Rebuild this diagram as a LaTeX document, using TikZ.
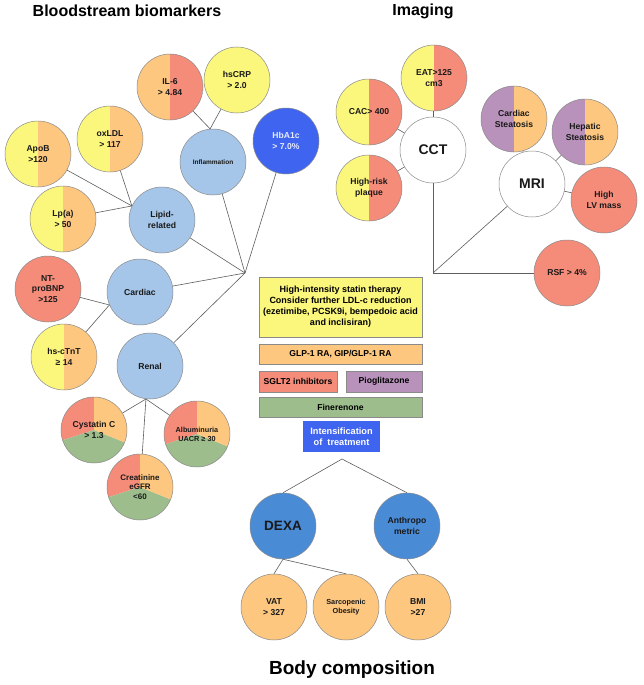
\documentclass[tikz,border=0pt]{standalone}
\usepackage{fontspec}
\setmainfont{Liberation Sans}
\usepackage{tikz}

\definecolor{cyel}{HTML}{FBF67C}
\definecolor{corg}{HTML}{FDC77F}
\definecolor{cred}{HTML}{F58C7A}
\definecolor{cgrn}{HTML}{9DBE8C}
\definecolor{cpur}{HTML}{B892BB}
\definecolor{clblue}{HTML}{A6C6E9}
\definecolor{cdblue}{HTML}{4A8BD6}
\definecolor{cblue}{HTML}{3F64F0}
\definecolor{cline}{HTML}{5E5E5E}
\definecolor{cedge}{HTML}{8A8A8A}

\newcommand{\fs}[1]{\bfseries\fontsize{#1}{1.22\dimexpr#1pt\relax}\selectfont}

\begin{document}
\begin{tikzpicture}[x=1pt,y=-1pt,
    marker/.style={circle,draw=cedge,line width=0.5pt,minimum size=66pt,inner sep=0pt,
      align=center,text=black!90,font=\fs{8.6}},
    halves/.style 2 args={path picture={
      \fill[#1] (path picture bounding box.south west) rectangle (path picture bounding box.north);
      \fill[#2] (path picture bounding box.south) rectangle (path picture bounding box.north east);}},
    thirds/.style={path picture={
      \fill[cred] (path picture bounding box.center) -- ++(90:40pt) arc (90:198:40pt) -- cycle;
      \fill[cgrn] (path picture bounding box.center) -- ++(198:40pt) arc (198:338:40pt) -- cycle;
      \fill[corg] (path picture bounding box.center) -- ++(338:40pt) arc (338:450:40pt) -- cycle;}},
    box/.style={draw=cedge,line width=0.5pt,inner sep=0pt,align=center,font=\fs{8.6}},
    conn/.style={draw=cline,line width=0.6pt},
    heading/.style={font=\fs{16}}]
  \fill[white] (0,0) rectangle (644,685);

  % titles
  \node[heading] (tblood) at (127,11) {Bloodstream biomarkers};
  \node[heading] (timg) at (423,11) {Imaging};
  \node[font=\fs{19}] (tbody) at (352,670) {Body composition};

  % bloodstream biomarkers
  \node[marker,halves={corg}{cred}] (il6) at (170,87) {IL-6\\> 4.84};
  \node[marker,fill=cyel] (hscrp) at (237,80) {hsCRP\\> 2.0};
  \node[marker,fill=cblue,text=white!88!cblue] (hba1c) at (286,141) {HbA1c\\> 7.0\%};
  \node[marker,fill=clblue,font=\fs{6.5}] (infl) at (213,162) {Inflammation};
  \node[marker,halves={cyel}{corg}] (oxldl) at (110,139) {oxLDL\\> 117};
  \node[marker,halves={cyel}{corg}] (apob) at (38,154) {ApoB\\>120};
  \node[marker,halves={cyel}{corg}] (lpa) at (63,219) {Lp(a)\\> 50};
  \node[marker,fill=clblue] (lipid) at (162,220) {Lipid-\\related};
  \node[marker,fill=cred] (ntbnp) at (48,289) {NT-\\proBNP\\>125};
  \node[marker,fill=clblue] (cardiac) at (140,292) {Cardiac};
  \node[marker,halves={cyel}{corg}] (tnt) at (64,357) {hs-cTnT\\≥ 14};
  \node[marker,fill=clblue] (renal) at (150,366) {Renal};
  \node[marker,thirds] (cysc) at (94,430) {Cystatin C\\> 1.3};
  \node[marker,thirds,font=\fs{7.3}] (albu) at (197,434) {Albuminuria\\UACR ≥ 30};
  \node[marker,thirds,font=\fs{8}] (creat) at (140,487) {Creatinine\\eGFR\\<60};
  \coordinate (hubL) at (245,273);

  \draw[conn] (il6) -- (infl.95);
  \draw[conn] (hscrp) -- (infl.95);
  \draw[conn] (infl) -- (hubL);
  \draw[conn] (hba1c) -- (hubL);
  \draw[conn] (apob) -- (lipid.155);
  \draw[conn] (oxldl) -- (lipid.155);
  \draw[conn] (lpa) -- (lipid.155);
  \draw[conn] (lipid) -- (hubL);
  \draw[conn] (ntbnp) -- (cardiac.203);
  \draw[conn] (tnt) -- (cardiac.203);
  \draw[conn] (cardiac) -- (hubL);
  \draw[conn] (renal) -- (hubL);
  \draw[conn] (renal.263) -- (cysc);
  \draw[conn] (renal.263) -- (creat);
  \draw[conn] (renal.263) -- (albu);

  % imaging
  \node[marker,halves={cyel}{cred}] (eat) at (434,78) {EAT>125\\cm3};
  \node[marker,halves={cyel}{cred}] (cac) at (369,112) {CAC> 400};
  \node[marker,halves={cyel}{cred}] (plaque) at (369,188) {High-risk\\plaque};
  \node[marker,fill=white,font=\fs{14}] (cct) at (433,150) {CCT};
  \node[marker,halves={cpur}{corg}] (cstea) at (514,119) {Cardiac\\Steatosis};
  \node[marker,halves={cpur}{corg}] (hstea) at (585,132) {Hepatic\\Steatosis};
  \node[marker,fill=white,font=\fs{14}] (mri) at (532,184) {MRI};
  \node[marker,fill=cred] (lvmass) at (604,200) {High\\LV mass};
  \node[marker,fill=cred] (rsf) at (567,273) {RSF > 4\%};
  \coordinate (hubR) at (433,273);

  \draw[conn] (eat) -- (cct);
  \draw[conn] (cac) -- (cct);
  \draw[conn] (plaque) -- (cct);
  \draw[conn] (cct) -- (hubR) -- (rsf);
  \draw[conn] (hubR) -- (mri);
  \draw[conn] (cstea) -- (mri);
  \draw[conn] (hstea) -- (mri);
  \draw[conn] (lvmass) -- (mri);

  % treatments
  \node[box,fill=cyel,minimum width=163pt,minimum height=60pt,font=\fs{9}] (statin) at (340.5,307)
    {High-intensity statin therapy\\Consider further LDL-c reduction\\(ezetimibe, PCSK9i, bempedoic acid\\and inclisiran)};
  \node[box,fill=corg,minimum width=163pt,minimum height=20pt] (glp) at (340.5,354) {GLP-1 RA, GIP/GLP-1 RA};
  \node[box,fill=cred,minimum width=78pt,minimum height=21pt] (sglt) at (298,381.5) {SGLT2 inhibitors};
  \node[box,fill=cpur,minimum width=76pt,minimum height=21pt] (pio) at (384,381.5) {Pioglitazone};
  \node[box,fill=cgrn,minimum width=163pt,minimum height=20pt] (fine) at (340.5,407) {Finerenone};
  \node[box,draw=none,fill=cblue,text=white,minimum width=77pt,minimum height=31pt,font=\fs{9.2}] (intens) at (341.5,436.5)
    {Intensification\\of\ \ treatment};

  % body composition
  \node[marker,fill=cdblue,font=\fs{13.5}] (dexa) at (283,526) {DEXA};
  \node[marker,fill=cdblue] (anthro) at (407,526) {Anthropo\\metric};
  \node[marker,fill=corg] (vat) at (274,607) {VAT\\> 327};
  \node[marker,fill=corg,font=\fs{7.3}] (sarc) at (346,607) {Sarcopenic\\Obesity};
  \node[marker,fill=corg] (bmi) at (418,607) {BMI\\>27};
  \coordinate (split) at (342,459);

  \draw[conn] (dexa.north) -- (split) -- (anthro.north);
  \draw[conn] (dexa.south) -- (vat.north);
  \draw[conn] (dexa.south) -- (sarc.north);
  \draw[conn] (anthro.south) -- (bmi.north);
\end{tikzpicture}
\end{document}
